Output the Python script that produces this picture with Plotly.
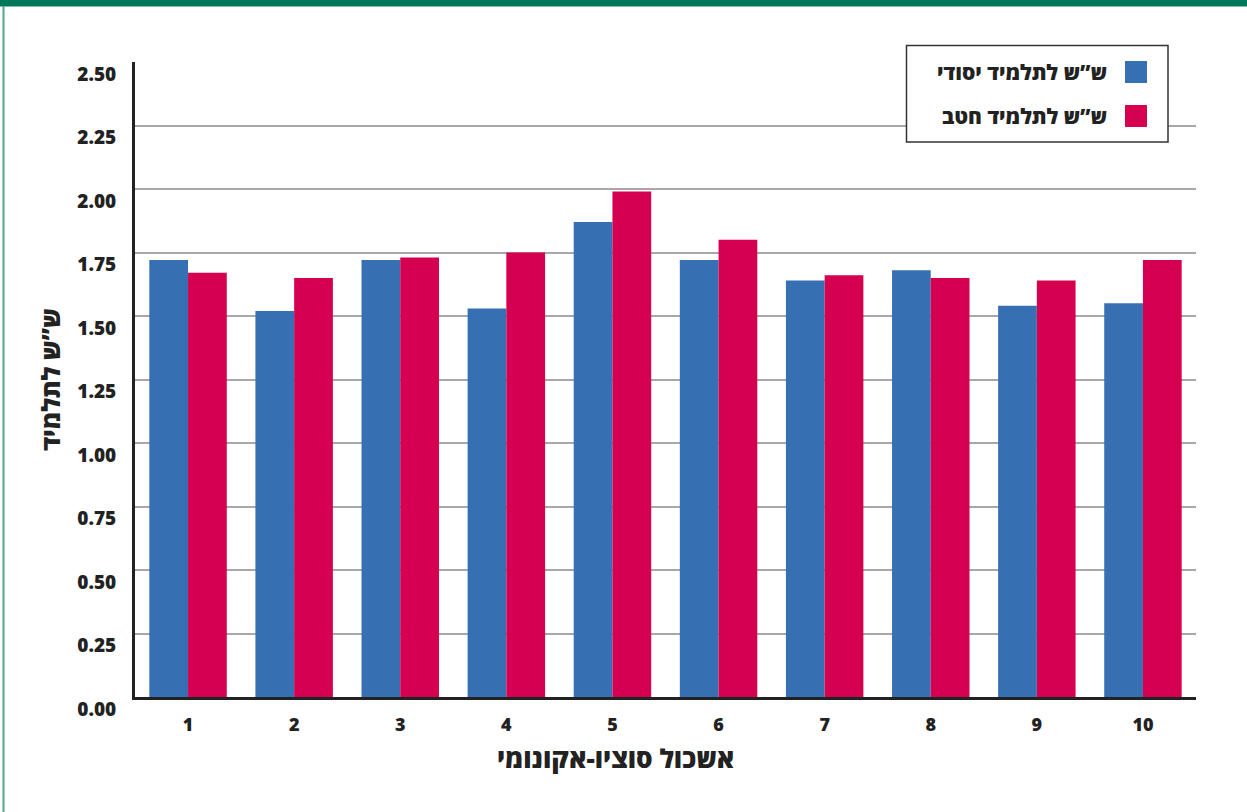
import plotly.graph_objects as go

# Socio-economic clusters and weekly hours per student
clusters = ["1", "2", "3", "4", "5", "6", "7", "8", "9", "10"]
series_names = ["ש”ש לתלמיד יסודי", "ש”ש לתלמיד חטב"]
elementary = [1.72, 1.52, 1.72, 1.53, 1.87, 1.72, 1.64, 1.68, 1.54, 1.55]
middle = [1.67, 1.65, 1.73, 1.75, 1.99, 1.80, 1.66, 1.65, 1.64, 1.72]
y_ticks = [0, 0.25, 0.5, 0.75, 1.0, 1.25, 1.5, 1.75, 2.0, 2.25, 2.5]
y_tick_text = [f"{v:.2f}" for v in y_ticks]
x_title = "אשכול סוציו-אקונומי"
y_title = "ש”ש לתלמיד"

BLUE = "#3670B3"
RED = "#D5004F"
TEXT = "#222222"
FONT = "Open Sans"
HEAVY = 800

W, H = 1247, 812
ML, MR, MT, MB = 135, 51, 62, 115
PW, PH = W - ML - MR, H - MT - MB


def px(x):
    return (x - ML) / PW


def py(y):
    return (H - MB - y) / PH


def heavy(size):
    return dict(family=FONT, size=size, color=TEXT, weight=HEAVY)


fig = go.Figure()
fig.add_trace(go.Bar(x=clusters, y=elementary, name=series_names[0],
                     marker=dict(color=BLUE, line=dict(width=0))))
fig.add_trace(go.Bar(x=clusters, y=middle, name=series_names[1],
                     marker=dict(color=RED, line=dict(width=0))))

shapes = [
    # green band along the top
    dict(type="rect", xref="paper", yref="paper", x0=px(0), x1=px(W),
         y0=py(6.5), y1=py(-2), fillcolor="#00785A", line=dict(width=0), layer="above"),
    # thin side rule on the left
    dict(type="line", xref="paper", yref="paper", x0=px(3.5), x1=px(3.5),
         y0=py(H + 2), y1=py(6), line=dict(color="#4FA88E", width=2)),
    # legend box
    dict(type="rect", xref="paper", yref="paper", x0=px(906.5), x1=px(1168),
         y0=py(142), y1=py(45.5), fillcolor="white",
         line=dict(color="#333333", width=1.5), layer="above"),
]
annotations = []
legend_rows = [(series_names[0], BLUE, 72), (series_names[1], RED, 116)]
for name, color, cy in legend_rows:
    shapes.append(dict(type="rect", xref="paper", yref="paper",
                       x0=px(1125), x1=px(1147), y0=py(cy + 11), y1=py(cy - 11),
                       fillcolor=color, line=dict(width=0), layer="above"))
    annotations.append(dict(text=name, xref="paper", yref="paper",
                            x=px(1109), y=py(cy), xanchor="right", yanchor="middle",
                            showarrow=False, font=heavy(21)))

# category-axis title, set a little left of the plot centre
annotations.append(dict(text=x_title, xref="paper", yref="paper",
                        x=px(615), y=py(758), xanchor="center", yanchor="middle",
                        showarrow=False, font=heavy(26)))

fig.update_layout(
    width=W, height=H,
    margin=dict(l=ML, r=MR, t=MT, b=MB),
    paper_bgcolor="white", plot_bgcolor="white",
    barmode="group", bargap=0.27, bargroupgap=0,
    showlegend=False,
    font=dict(family=FONT, color=TEXT),
    shapes=shapes, annotations=annotations,
)
fig.update_xaxes(
    type="category",
    showline=True, linecolor="#222222", linewidth=2.5,
    showgrid=False, ticks="",
    tickfont=heavy(18),
    ticklabelstandoff=10,
)
fig.update_yaxes(
    range=[0, 2.5], tickvals=y_ticks, ticktext=y_tick_text,
    showline=True, linecolor="#222222", linewidth=3,
    showgrid=True, gridcolor="#A8A8A8", gridwidth=2,
    zeroline=False, ticks="",
    tickfont=heavy(19),
    ticklabelshift=12, ticklabelstandoff=12,
    title=dict(text=y_title, standoff=10, font=heavy(25)),
)

fig.write_html("out.html")
